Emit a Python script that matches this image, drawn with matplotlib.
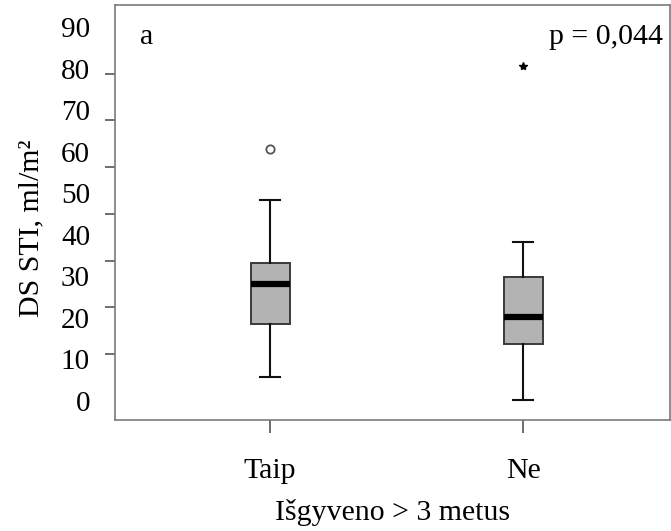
import numpy as np
import matplotlib
matplotlib.use("Agg")
import matplotlib.pyplot as plt

plt.rcParams['font.family'] = ['Liberation Serif', 'DejaVu Serif']

# box summaries per group, ml/m2
groups = ['Taip', 'Ne']
q1 = [18.6, 13.6]
median = [28.1, 20.3]
q3 = [33.2, 29.8]
whisker_low = [5.7, 0.2]
whisker_high = [48.3, 38.3]
outliers = [[60.6], [80.6]]
outlier_markers = ['o', '*']

y_labels = [0, 10, 20, 30, 40, 50, 60, 70, 80, 90]

fig = plt.figure(figsize=(6.71, 5.31), dpi=100)
ax = fig.add_axes([0.1714, 0.209, 0.8271, 0.7816])

for i, g in enumerate(groups):
    stats = [dict(med=median[i], q1=q1[i], q3=q3[i],
                  whislo=whisker_low[i], whishi=whisker_high[i],
                  fliers=outliers[i], label=g)]
    if outlier_markers[i] == 'o':
        fp = dict(marker='o', markersize=6, markerfacecolor='white',
                  markeredgecolor='#555555', markeredgewidth=1.3, linestyle='none')
    else:
        fp = dict(marker='*', markersize=6, markerfacecolor='black',
                  markeredgecolor='black', linestyle='none')
    ax.bxp(stats, positions=[i + 1], widths=0.154, patch_artist=True,
           showfliers=True, manage_ticks=False,
           boxprops=dict(facecolor='#b3b3b3', edgecolor='#3a3a3a', linewidth=1.4),
           medianprops=dict(color='black', linewidth=4.5, solid_capstyle='butt'),
           whiskerprops=dict(color='#111111', linewidth=1.5),
           capprops=dict(color='#111111', linewidth=1.5),
           capwidths=0.077,
           flierprops=fp)

ax.set_xlim(0.387, 2.58)
ax.set_ylim(-4.6, 95.3)

# labels every 10, tick marks spread over nine positions
ax.set_yticks(y_labels)
ax.set_yticklabels([str(v) for v in y_labels])
ax.tick_params(axis='y', which='major', length=0, pad=18, labelsize=21)
ax.set_yticks(np.linspace(0, 90, 9), minor=True)
ax.tick_params(axis='y', which='minor', length=7, width=1.2, color='#555555', direction='out')

ax.set_xticks([1, 2])
ax.set_xticklabels(groups)
ax.tick_params(axis='x', length=9, width=1.2, color='#555555', pad=18, labelsize=21.5)

for s in ax.spines.values():
    s.set_color('#7a7a7a')
    s.set_linewidth(1.2)

ax.set_ylabel('DS STI, ml/m²', fontsize=21.5)
ax.yaxis.set_label_coords(-0.128, 0.463)
ax.set_xlabel('Išgyveno > 3 metus', fontsize=21.5, labelpad=11)

ax.text(0.045, 0.905, 'a', transform=ax.transAxes, fontsize=21.5, ha='left', va='baseline')
ax.text(0.782, 0.905, 'p = 0,044', transform=ax.transAxes, fontsize=21.5, ha='left', va='baseline')

fig.savefig('out.png', dpi=100)
